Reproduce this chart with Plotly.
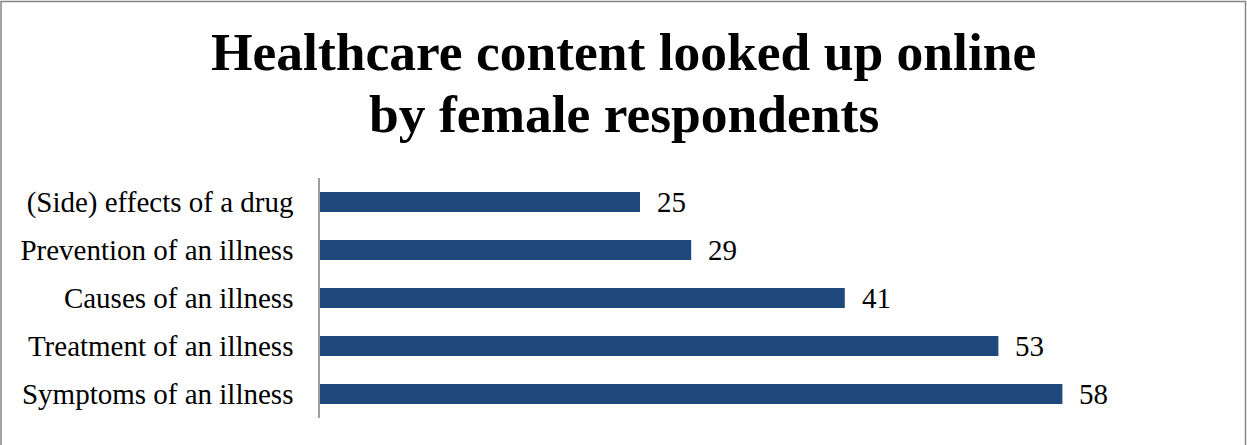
import plotly.graph_objects as go

# Survey topics, listed bottom to top as they appear on the axis
topics = [
    "Symptoms of an illness",
    "Treatment of an illness",
    "Causes of an illness",
    "Prevention of an illness",
    "(Side) effects of a drug",
]
shares = [58, 53, 41, 29, 25]

title_lines = ["Healthcare content looked up online", "by female respondents"]

W, H = 1247, 445
ML, MR, MT, MB = 320, 31, 178, 27
PW, PH = W - ML - MR, H - MT - MB

SERIF = "Times New Roman, Liberation Serif, serif"
BAR_COLOR = "#1F497D"

fig = go.Figure(
    go.Bar(
        x=shares,
        y=topics,
        orientation="h",
        marker=dict(color=BAR_COLOR, line=dict(width=0)),
        hoverinfo="x+y",
    )
)

# value labels to the right of each bar
for topic, v in zip(topics, shares):
    fig.add_annotation(
        x=v, y=topic, xref="x", yref="y",
        text=str(v), showarrow=False,
        xanchor="left", yanchor="middle", xshift=15,
        font=dict(family=SERIF, size=29, color="#000000"),
    )

# pixel -> paper helpers (paper space is the plot area)
def px_to_paper_x(px):
    return (px - ML) / PW

def px_to_paper_y(py):
    return (H - MB - py) / PH

# two-line title centred on the page, each line placed on its own
for line, cy in zip(title_lines, [52, 114]):
    fig.add_annotation(
        x=px_to_paper_x(W / 2), y=px_to_paper_y(cy), xref="paper", yref="paper",
        text=f"<b>{line}</b>", showarrow=False,
        xanchor="center", yanchor="middle",
        font=dict(family=SERIF, size=53.5, color="#000000"),
    )

# outer frame of the chart area
fig.add_shape(
    type="rect", xref="paper", yref="paper",
    x0=px_to_paper_x(1), x1=px_to_paper_x(1245.5),
    y0=px_to_paper_y(460), y1=px_to_paper_y(1.5),
    line=dict(color="#868686", width=1.5),
    fillcolor="rgba(0,0,0,0)", layer="above",
)

fig.update_layout(
    width=W, height=H,
    margin=dict(l=ML, r=MR, t=MT, b=MB, pad=0),
    paper_bgcolor="white", plot_bgcolor="white",
    bargap=0.583,
    showlegend=False,
    font=dict(family=SERIF, size=29, color="#000000"),
    xaxis=dict(
        range=[0, 70], showgrid=False, zeroline=False,
        showline=False, showticklabels=False, ticks="",
        fixedrange=True,
    ),
    yaxis=dict(
        showgrid=False, zeroline=False,
        showline=True, linecolor="#A0A0A0", linewidth=1.5,
        ticks="", ticklabelstandoff=19,
        tickfont=dict(family=SERIF, size=29, color="#000000"),
        fixedrange=True,
    ),
)

fig.write_html("out.html")
